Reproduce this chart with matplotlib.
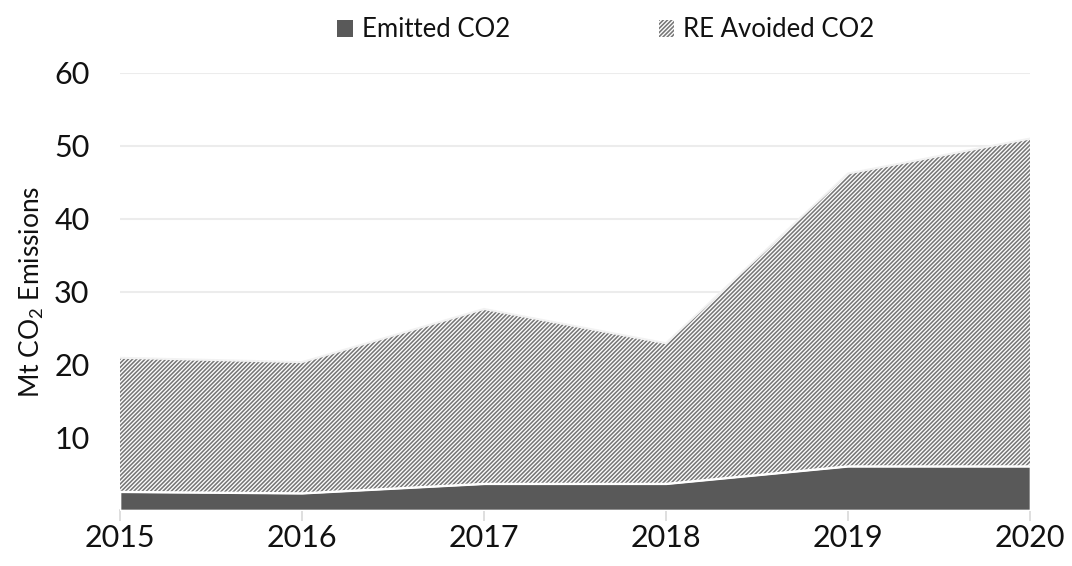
import matplotlib
matplotlib.use("Agg")
import matplotlib.pyplot as plt
from matplotlib.patches import Patch
import numpy as np

years = [2015, 2016, 2017, 2018, 2019, 2020]
emitted = [2.5, 2.3, 3.6, 3.6, 6.0, 6.0]
avoided = [18.4, 18.0, 24.0, 19.3, 40.2, 45.0]
yticks = [10, 20, 30, 40, 50, 60]

plt.rcParams['font.family'] = ['Lato', 'DejaVu Sans']
plt.rcParams['mathtext.default'] = 'regular'
plt.rcParams['hatch.linewidth'] = 1.15
plt.rcParams['hatch.color'] = '#777777'

fig = plt.figure(figsize=(10.72, 5.66), dpi=100)
ax = fig.add_axes([120/1072, 56/566, 910/1072, 437/566])

e = np.array(emitted)
tot = e + np.array(avoided)

ax.fill_between(years, 0, e, facecolor='#595959', edgecolor='white', linewidth=1.2, zorder=3)
ax.fill_between(years, e, tot, facecolor='white', edgecolor='#777777', hatch='////////', linewidth=0, zorder=3)
ax.plot(years, tot, color='#f2f2f2', linewidth=1.5, zorder=4)
ax.plot(years, e, color='white', linewidth=1.5, zorder=4)

ax.set_xlim(2015, 2020)
ax.set_ylim(0, 60)
ax.set_yticks(yticks)
ax.set_xticks(years)
ax.set_xticklabels([str(y) for y in years])
ax.grid(axis='y', color='#ececec', linewidth=1.5, zorder=0)
ax.set_axisbelow(True)
for s in ['top', 'right', 'left']:
    ax.spines[s].set_visible(False)
ax.spines['bottom'].set_color('#d9d9d9')
ax.spines['bottom'].set_linewidth(1.2)
ax.tick_params(axis='y', length=0, labelsize=22, pad=22, labelcolor='#111111')
ax.tick_params(axis='x', length=8, width=1.2, color='#d9d9d9', labelsize=22, pad=2, labelcolor='#111111')

ax.set_ylabel('Mt CO$_2$ Emissions', fontsize=19, color='#111111', labelpad=6)

handles = [Patch(facecolor='#595959', edgecolor='none', label='Emitted CO2'),
           Patch(facecolor='white', edgecolor='#777777', hatch='////////', linewidth=0, label='RE Avoided CO2')]
leg = fig.legend(handles=handles, loc='upper center', bbox_to_anchor=(0.565, 1.01), ncol=2,
                 frameon=False, columnspacing=5.8, handlelength=0.6, handleheight=0.6,
                 handletextpad=0.35, prop={'size': 18.5})
for t in leg.get_texts():
    t.set_color('#111111')

fig.savefig('out.png', dpi=100)
